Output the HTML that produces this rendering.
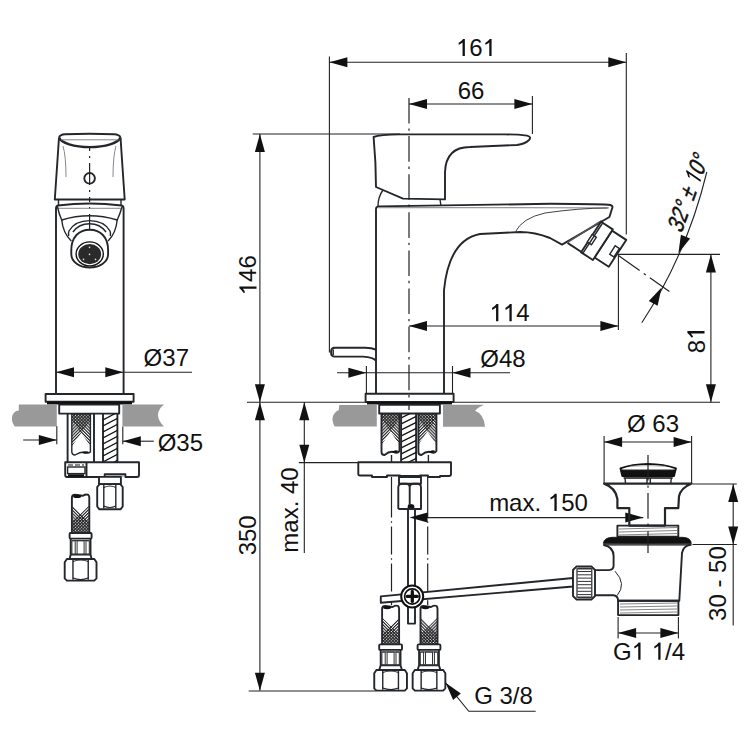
<!DOCTYPE html>
<html><head><meta charset="utf-8"><style>
html,body{margin:0;padding:0;background:#fff;}
svg{display:block;}
.one{fill-opacity:0;stroke-opacity:0;}
text{font-family:"Liberation Sans",sans-serif;fill:#111;font-kerning:none;}
.d{stroke:#222;stroke-width:1.1;fill:none;}
.cl{stroke:#222;stroke-width:1.2;fill:none;}
.o{stroke:#23262b;stroke-width:1.9;fill:none;stroke-linejoin:round;}
.o1{stroke:#23262b;stroke-width:1.4;fill:none;}
.t1{stroke:#888;stroke-width:1;fill:none;}
</style></head><body>
<svg width="750" height="750" viewBox="0 0 750 750">
<defs>
<pattern id="h1" width="2.2" height="2.2" patternUnits="userSpaceOnUse" patternTransform="rotate(45)"><rect width="1.15" height="2.2" fill="#222"/></pattern>
<pattern id="h2" width="2.2" height="2.2" patternUnits="userSpaceOnUse" patternTransform="rotate(-45)"><rect width="1.15" height="2.2" fill="#222"/></pattern>
</defs>
<line x1="329.4" y1="56.5" x2="329.4" y2="352.5" class="d"/>
<line x1="626.3" y1="53" x2="626.3" y2="234.5" class="d"/>
<line x1="329.4" y1="62.3" x2="626.3" y2="62.3" class="d"/>
<polygon points="329.4,62.3 347.4,57.3 347.4,67.3" fill="#111"/>
<polygon points="626.3,62.3 608.3,67.3 608.3,57.3" fill="#111"/>
<text x="476" y="56" text-anchor="middle" font-size="24"><tspan class="one">1</tspan>6<tspan class="one">1</tspan></text>
<line x1="532.4" y1="96" x2="532.4" y2="134" class="d"/>
<line x1="409" y1="104" x2="532.4" y2="104" class="d"/>
<polygon points="409.0,104.0 427.0,99.0 427.0,109.0" fill="#111"/>
<polygon points="532.4,104.0 514.4,109.0 514.4,99.0" fill="#111"/>
<text x="471" y="98.7" text-anchor="middle" font-size="24">66</text>
<line x1="252.7" y1="134" x2="400" y2="134" class="d"/>
<line x1="259.9" y1="134" x2="259.9" y2="690.7" class="d"/>
<polygon points="259.9,134.0 264.9,152.0 254.9,152.0" fill="#111"/>
<polygon points="259.9,402.2 254.9,384.2 264.9,384.2" fill="#111"/>
<text x="256.5" y="275.3" text-anchor="middle" font-size="24" transform="rotate(-90 256.5 275.3)"><tspan class="one">1</tspan>46</text>
<line x1="247" y1="402.2" x2="720" y2="402.2" class="d"/>
<polygon points="259.9,402.2 264.9,420.2 254.9,420.2" fill="#111"/>
<polygon points="259.9,690.7 254.9,672.7 264.9,672.7" fill="#111"/>
<line x1="248.7" y1="691" x2="376" y2="691" class="d"/>
<text x="256.5" y="535.3" text-anchor="middle" font-size="24" transform="rotate(-90 256.5 535.3)">350</text>
<line x1="304.3" y1="402.2" x2="304.3" y2="553" class="d"/>
<polygon points="304.3,402.2 309.3,420.2 299.3,420.2" fill="#111"/>
<polygon points="304.3,462.8 299.3,444.8 309.3,444.8" fill="#111"/>
<line x1="298.8" y1="462.6" x2="358.4" y2="462.6" class="d"/>
<text x="297.5" y="510" text-anchor="middle" font-size="24" transform="rotate(-90 297.5 510)">max. 40</text>
<line x1="337" y1="372.8" x2="510" y2="372.8" class="d"/>
<polygon points="366.4,372.8 348.4,377.8 348.4,367.8" fill="#111"/>
<polygon points="452.5,372.8 470.5,367.8 470.5,377.8" fill="#111"/>
<line x1="366.4" y1="366" x2="366.4" y2="393" class="d"/>
<line x1="452.5" y1="366" x2="452.5" y2="393" class="d"/>
<text x="503" y="366.5" text-anchor="middle" font-size="24">Ø48</text>
<line x1="409" y1="326" x2="618.4" y2="326" class="d"/>
<polygon points="409.0,326.0 427.0,321.0 427.0,331.0" fill="#111"/>
<polygon points="618.4,326.0 600.4,331.0 600.4,321.0" fill="#111"/>
<line x1="618.4" y1="254.4" x2="618.4" y2="330" class="d"/>
<text x="509.5" y="321.2" text-anchor="middle" font-size="24"><tspan class="one">1</tspan><tspan class="one">1</tspan>4</text>
<line x1="618" y1="254.4" x2="720" y2="254.4" class="d"/>
<line x1="710.9" y1="254.4" x2="710.9" y2="402.2" class="d"/>
<polygon points="710.9,254.4 715.9,272.4 705.9,272.4" fill="#111"/>
<polygon points="710.9,402.2 705.9,384.2 715.9,384.2" fill="#111"/>
<text x="704.5" y="340" text-anchor="middle" font-size="24" transform="rotate(-90 704.5 340)">8<tspan class="one">1</tspan></text>
<path d="M706.8,172 A483,483 0 0 1 641.8,322.8" class="d"/>
<polygon points="678.4,253.2 680.9,234.7 690.1,238.6" fill="#111"/>
<polygon points="661.6,287.4 657.6,305.7 648.8,301.0" fill="#111"/>
<line x1="618.4" y1="255.6" x2="669.4" y2="291.6" class="cl" style="stroke-dasharray:26,5,2.5,5"/>
<text transform="translate(695,196.7) rotate(-70) skewX(-15) scale(0.8,1)" text-anchor="middle" font-size="24" style="stroke:#111;stroke-width:0.45">32° ± <tspan class="one">1</tspan>0°</text>
<line x1="56" y1="372.2" x2="192" y2="372.2" class="d"/>
<polygon points="56.0,372.2 74.0,367.2 74.0,377.2" fill="#111"/>
<polygon points="123.3,372.2 105.3,377.2 105.3,367.2" fill="#111"/>
<text x="166.3" y="366.4" text-anchor="middle" font-size="24">Ø37</text>
<line x1="23.2" y1="440" x2="56.8" y2="440" class="d"/>
<line x1="122.8" y1="441.2" x2="153.8" y2="441.2" class="d"/>
<polygon points="56.8,440.0 38.8,445.0 38.8,435.0" fill="#111"/>
<polygon points="122.8,441.2 140.8,436.2 140.8,446.2" fill="#111"/>
<line x1="56.8" y1="426" x2="56.8" y2="444.2" class="d"/>
<line x1="122.8" y1="426.4" x2="122.8" y2="444.2" class="d"/>
<text x="180.4" y="451.2" text-anchor="middle" font-size="24">Ø35</text>
<line x1="604.1" y1="442" x2="691.6" y2="442" class="d"/>
<polygon points="604.1,442.0 622.1,437.0 622.1,447.0" fill="#111"/>
<polygon points="691.6,442.0 673.6,447.0 673.6,437.0" fill="#111"/>
<line x1="604.1" y1="436" x2="604.1" y2="483" class="d"/>
<line x1="691.6" y1="436" x2="691.6" y2="483" class="d"/>
<text x="653" y="431.7" text-anchor="middle" font-size="24">Ø 63</text>
<line x1="692.4" y1="484" x2="736.8" y2="484" class="d"/>
<line x1="692.4" y1="544.5" x2="736.8" y2="544.5" class="d"/>
<line x1="733.2" y1="484" x2="733.2" y2="625.6" class="d"/>
<polygon points="733.2,484.0 738.2,502.0 728.2,502.0" fill="#111"/>
<polygon points="733.2,544.5 728.2,526.5 738.2,526.5" fill="#111"/>
<text x="726" y="583.6" text-anchor="middle" font-size="24" transform="rotate(-90 726 583.6)">30 - 50</text>
<line x1="618.1" y1="633" x2="678.4" y2="633" class="d"/>
<polygon points="618.1,633.0 636.1,628.0 636.1,638.0" fill="#111"/>
<polygon points="678.4,633.0 660.4,638.0 660.4,628.0" fill="#111"/>
<line x1="618.1" y1="617" x2="618.1" y2="638.4" class="d"/>
<line x1="678.4" y1="617" x2="678.4" y2="638.4" class="d"/>
<text x="649" y="659.7" text-anchor="middle" font-size="24">G<tspan class="one">1</tspan> <tspan class="one">1</tspan>/4</text>
<line x1="410.4" y1="517.6" x2="643.3" y2="517.6" class="d"/>
<polygon points="643.3,517.6 625.3,522.6 625.3,512.6" fill="#111"/>
<text x="538.5" y="510.9" text-anchor="middle" font-size="24">max. <tspan class="one">1</tspan>50</text>
<polyline points="445.6,682.8 468.8,711.3 535.7,711.3" class="d"/>
<polygon points="445.6,682.8 460.8,693.6 453.1,699.9" fill="#111"/>
<text x="503.5" y="704.4" text-anchor="middle" font-size="24">G 3/8</text>
<path d="M59,137.5 L54.8,199.5 L124.7,199.5 L120.5,137.5" class="o"/>
<path d="M59,137.5 Q60,134.5 65,134.2 Q89.6,133.2 114,134.2 Q119.5,134.5 120.5,137.5" class="o"/>
<path d="M59,137.5 A31,11 0 0 0 120.5,137.5" class="o" style="stroke-width:2.4"/>
<path d="M61,139.8 L118.5,139.8" class="t1"/>
<path d="M63,146 Q66,156 66,177 M116,146 Q113,156 113,177" class="t1"/>
<circle cx="89.6" cy="178.3" r="5.3" class="o" style="fill:#fff"/>
<line x1="89.6" y1="146" x2="89.6" y2="230" class="cl" style="stroke-dasharray:5,5,2,5,22,5,2,5;"/>
<path d="M58.5,199.5 L58.5,205 M121,199.5 L121,205" class="o1"/>
<path d="M56,393.6 L56,208.5 Q56,206 58,205.5 Q89.5,201.5 121.5,205.5 Q123.6,206 123.6,208.5 L123.6,393.6" class="o"/>
<path d="M58,208.3 L121,208.3" class="t1"/>
<path d="M57.5,207 Q59,214 61.7,220 Q89.5,211.5 117.2,220 Q120,214 122,207" class="o1"/>
<path d="M61.7,220 Q63,233 71.3,241 M117.2,220 Q116,233 108.1,241" class="o1"/>
<path d="M68.7,236 Q68,233.4 69,231 Q75,220.6 89.5,220.6 Q104,220.6 110,231 Q111,233.4 110.3,236" class="o1"/>
<path d="M72.9,232 Q79,223.8 89.5,223.8 Q100,223.8 106,232" class="o1"/>
<path d="M71.3,250 C71.3,237 79,229.7 89.7,229.7 C100.4,229.7 108.1,237 108.1,250 L108.1,254 C108.1,262 100,267.5 89.7,267.5 C79.4,267.5 71.3,262 71.3,254 Z" class="o" style="fill:#fff" stroke-width="3"/>
<ellipse cx="89.7" cy="253.9" rx="13.6" ry="12" fill="none" stroke="#111" stroke-width="1.4"/>
<ellipse cx="89.7" cy="254.1" rx="11.45" ry="10.1" fill="#2a2a2a"/>
<circle cx="89.5" cy="247.4" r="0.8" fill="#ddd"/>
<circle cx="89.5" cy="254.4" r="0.8" fill="#ddd"/>
<circle cx="83.5" cy="259.4" r="0.8" fill="#ddd"/>
<circle cx="95.5" cy="259.4" r="0.8" fill="#ddd"/>
<rect x="45.6" y="394" width="88" height="7.8" class="o"/>
<path d="M47,403 L132,403" stroke="#111" stroke-width="3"/>
<path d="M18.8,404.6 L56.8,404.6 L56.8,426.6 L14.8,426.6 Q11.5,422 12,417.5 Q13,411 18.8,410.6 Z" fill="#999"/>
<path d="M122.4,404.4 L164,404.4 Q152,414 164,426.6 L122.4,426.6 Z" fill="#999"/>
<rect x="59.2" y="404.6" width="60" height="9" class="o"/>
<path d="M67.6,413.6 L67.6,462.2 M94,413.6 L94,462.2 M103,413.6 L103,462.2 M117.4,413.6 L117.4,462.2" class="o"/>
<polygon points="72,414 90.4,414 90.4,420 72,446" fill="url(#h1)"/>
<polygon points="72,414 90.4,414 90.4,446 72,420" fill="url(#h2)"/>
<path d="M71.8,414 L71.8,452 Q72,455 75,455 Q80,452 84,452 Q88,454 90.4,452 L90.4,414" class="o1"/>
<path d="M82,453 Q86,450 89,452 Q86,455 82,453 Z" fill="#111"/>
<clipPath id="cr1"><rect x="103" y="413.6" width="14.4" height="48.6"/></clipPath>
<g clip-path="url(#cr1)"><line x1="103" y1="420" x2="118" y2="412" stroke="#111" stroke-width="1.3"/><line x1="103" y1="426" x2="118" y2="418" stroke="#111" stroke-width="1.3"/><line x1="103" y1="432" x2="118" y2="424" stroke="#111" stroke-width="1.3"/><line x1="103" y1="438" x2="118" y2="430" stroke="#111" stroke-width="1.3"/><line x1="103" y1="444" x2="118" y2="436" stroke="#111" stroke-width="1.3"/><line x1="103" y1="450" x2="118" y2="442" stroke="#111" stroke-width="1.3"/><line x1="103" y1="456" x2="118" y2="448" stroke="#111" stroke-width="1.3"/><line x1="103" y1="462" x2="118" y2="454" stroke="#111" stroke-width="1.3"/><line x1="103" y1="468" x2="118" y2="460" stroke="#111" stroke-width="1.3"/></g>
<path d="M65.2,462.2 L139,462.2 L139,475 Q139,477 137,477 L125.4,477 L125.4,474.2 L104.7,474.2 L104.7,477 L67,477 Q65.2,477 65.2,475 Z" class="o"/>
<rect x="67.6" y="467" width="17.4" height="6.6" class="o1"/>
<path d="M86.5,462.2 L86.5,477" class="o"/>
<path d="M68,465 L84,465" stroke="#111" stroke-width="1" stroke-dasharray="5,2"/>
<path d="M68,475.5 L84,475.5" stroke="#111" stroke-width="2.5"/>
<path d="M106,476 L124,476" class="t1"/>
<rect x="99" y="476.9" width="21.9" height="7.2" class="o" style="fill:#fff"/>
<path d="M99.6,484.1 L120.3,484.1 L122.7,487 L122.7,506.5 L120.5,509.3 L99.4,509.3 L97.2,506.5 L97.2,487 Z" class="o" style="fill:#fff"/>
<path d="M103.8,485 L103.8,508.4 M115.8,485 L115.8,508.4" class="o1"/>
<path d="M103.8,487.5 Q109.8,484.5 115.8,487.5 M103.8,506 Q109.8,509 115.8,506" class="o1" style="stroke-width:1.1"/>
<polygon points="72.39999999999999,533 88.8,533 88.8,505.8 72.39999999999999,521.8" fill="url(#h1)"/>
<polygon points="72.39999999999999,533 88.8,533 88.8,521.8 72.39999999999999,505.8" fill="url(#h2)"/>
<path d="M71.89999999999999,533 L71.89999999999999,497.8 Q71.89999999999999,494.8 74.89999999999999,494.8 Q79.6,495.3 82.6,495.8 Q86.3,493.8 88.3,494.8 Q89.3,495.8 89.3,497.8 L89.3,533" class="o"/>
<ellipse cx="77.1" cy="496.40000000000003" rx="4" ry="1.6" fill="#111"/>
<rect x="69.6" y="533" width="22" height="5.600000000000023" rx="1" class="o" style="fill:#fff"/>
<path d="M70.69999999999999,538.6 L70.69999999999999,554.5 L69.6,559 M90.5,538.6 L90.5,554.5 L91.6,559 M70.69999999999999,554.5 L90.5,554.5" class="o"/>
<path d="M72.19999999999999,540.6 L89.0,540.6" class="o1" style="stroke-width:1"/>
<rect x="71.89999999999999" y="540.8000000000001" width="3.3000000000000007" height="13.699999999999978" class="o1" style="stroke-width:1;stroke:#333"/>
<rect x="77.1" y="540.8000000000001" width="7.0" height="13.699999999999978" class="o1" style="stroke-width:1;stroke:#333"/>
<rect x="86.0" y="540.8000000000001" width="3.3000000000000007" height="13.699999999999978" class="o1" style="stroke-width:1;stroke:#333"/>
<path d="M66.89999999999999,559 L94.3,559 L96.5,562.2 L96.5,578.4 L94.3,580.6 L66.89999999999999,580.6 L64.69999999999999,578.4 L64.69999999999999,562.2 Z" class="o" style="fill:#fff"/>
<path d="M72.96799999999999,559.8 L72.96799999999999,579.8000000000001 M88.232,559.8 L88.232,579.8000000000001" class="o1"/>
<path d="M72.96799999999999,561.5 Q80.6,558.5 88.232,561.5 M72.96799999999999,578.1 Q80.6,581.1 88.232,578.1" class="o1" style="stroke-width:1.1"/>
<path d="M373.6,137 Q376,163 376,187 L403,198.6 L445,199.4 L445,172 Q446,147 470,147 L517,145 Q525,144 529,140 Q532,136.8 527,135.6 Q518,134.4 505,134.4 L400,134.4 Q380,134.6 373.6,137 Z" class="o"/>
<path d="M383,190 Q378,197 378,206" class="o1"/>
<path d="M440,199.5 L441,206" class="o1"/>
<line x1="409" y1="98" x2="409" y2="410" class="cl" style="stroke-dasharray:25.6,4.8,2.4,5.3"/>
<path d="M376,393.6 L376,209 Q376,206.4 379,206.4 L550,203.8 Q605,204 610.5,205 Q613,206 612.4,207.5 L609.4,217 L562,244.6 L550,238 Q535,232 520,232 L480,234 Q449,240 444,290 L444,393.6" class="o"/>
<path d="M378,207.6 L609,207.8" class="t1" style="stroke-width:1.3;stroke:#999"/>
<path d="M515,232.5 Q522,218 545,213 Q580,208 607.6,208" class="t1" style="stroke:#444"/>
<path d="M601.6,220.6 L568,242.2" class="o1" style="stroke:#555"/>
<g transform="translate(617.5,253.3) rotate(33)"><path d="M-17,-16 L0,-16 L0,16 L-17,16 Z" class="o" style="fill:#fff"/><path d="M-31,-17.5 L-17,-17.5 L-17,19 L-31,19 Z" class="o" style="fill:#fff"/><path d="M-47.6,18.5 L-31,18.5" class="o"/><rect x="-6" y="-5" width="5" height="10" class="o1"/><rect x="-31.5" y="-2" width="5" height="9" class="o1" style="fill:#fff"/><path d="M-29,-17 L-29,19" class="o1"/></g>
<path d="M376.2,350 Q372,347.8 365,347.8 L335,347.8 Q331,347.8 331,352.2 Q331,356.6 335,356.6 L363,356.6 Q373.5,357 376.2,361" class="o"/>
<path d="M333.2,349.5 L333.2,355" stroke="#23262b" stroke-width="1.5"/>
<rect x="365.6" y="393.8" width="88" height="8.2" class="o"/>
<path d="M367,403 L452,403" stroke="#111" stroke-width="3"/>
<path d="M339.3,405 L376.8,405 L376.8,426.6 L334.7,426.6 Q331.5,421 333,416 Q335,411.5 338.7,410.3 Z" fill="#999"/>
<path d="M443,404.8 L483.8,404.8 Q478,407.5 475,410.8 Q484,414 485,426.8 L443,426.8 Z" fill="#999"/>
<rect x="379.2" y="404.7" width="60.7" height="8.8" class="o"/>
<polygon points="382.0,414 399.0,414 399.0,419 382.0,444" fill="url(#h1)"/>
<polygon points="382.0,414 399.0,414 399.0,444 382.0,419" fill="url(#h2)"/>
<path d="M381.5,413.5 L381.5,452 Q381.5,455 384.5,455 Q389.5,451 393.5,452 Q397.5,454 399.5,451 L399.5,413.5" class="o"/>
<path d="M391.5,452 Q395.5,449 398.5,451 Q395.5,454 391.5,452 Z" fill="#111"/>
<path d="M391.5,455 L391.5,462" class="o1"/>
<polygon points="418.9,414 435.9,414 435.9,419 418.9,444" fill="url(#h1)"/>
<polygon points="418.9,414 435.9,414 435.9,444 418.9,419" fill="url(#h2)"/>
<path d="M418.4,413.5 L418.4,452 Q418.4,455 421.4,455 Q426.4,451 430.4,452 Q434.4,454 436.4,451 L436.4,413.5" class="o"/>
<path d="M428.4,452 Q432.4,449 435.4,451 Q432.4,454 428.4,452 Z" fill="#111"/>
<path d="M428.4,455 L428.4,462" class="o1"/>
<path d="M401.1,413.5 L401.1,462 M416.1,413.5 L416.1,462" class="o"/>
<clipPath id="cr2"><rect x="402" y="413.6" width="14" height="48.6"/></clipPath>
<g clip-path="url(#cr2)"><line x1="401" y1="418" x2="417" y2="410" stroke="#111" stroke-width="1.3"/><line x1="401" y1="424" x2="417" y2="416" stroke="#111" stroke-width="1.3"/><line x1="401" y1="430" x2="417" y2="422" stroke="#111" stroke-width="1.3"/><line x1="401" y1="436" x2="417" y2="428" stroke="#111" stroke-width="1.3"/><line x1="401" y1="442" x2="417" y2="434" stroke="#111" stroke-width="1.3"/><line x1="401" y1="448" x2="417" y2="440" stroke="#111" stroke-width="1.3"/><line x1="401" y1="454" x2="417" y2="446" stroke="#111" stroke-width="1.3"/><line x1="401" y1="460" x2="417" y2="452" stroke="#111" stroke-width="1.3"/><line x1="401" y1="466" x2="417" y2="458" stroke="#111" stroke-width="1.3"/><line x1="401" y1="472" x2="417" y2="464" stroke="#111" stroke-width="1.3"/></g>
<path d="M358.3,462.3 L451,462.3 L451,474 Q451,476 449,476 L440,476 L440,477 L428,477 L428,475.5 L420,475.5 L420,477 L400,477 L400,475.5 L387,475.5 L387,477 L372,477 L372,475.5 L360,475.5 Q358.3,475.5 358.3,474 Z" class="o"/>
<rect x="399" y="476" width="22" height="7.7" class="o"/>
<path d="M398.3,509 L398.3,487.5 Q398.3,483.7 402,483.7 L406,483.7 Q409.7,483.7 409.7,487.5 L409.7,504 M409.7,487.5 Q409.7,483.7 413.5,483.7 L417.5,483.7 Q421,483.7 421,487.5 L421,509 L398.3,509" class="o"/>
<path d="M407.7,509 L407.7,506 Q407.7,504 410,504 Q414.3,504 414.3,506 L414.3,509 Z" fill="#111"/>
<rect x="408" y="509" width="7" height="114.6" class="o" style="fill:#fff"/>
<line x1="391.5" y1="477" x2="391.5" y2="605" class="cl" style="stroke-dasharray:40.6,3.7,1.5,3.7,28,3.7,1.5,3.7,28,3.7,1.5,3.7,28,3.7,1.5,3.7,40"/>
<line x1="427.7" y1="477" x2="427.7" y2="605" class="cl" style="stroke-dasharray:40.6,3.7,1.5,3.7,28,3.7,1.5,3.7,28,3.7,1.5,3.7,28,3.7,1.5,3.7,40"/>
<path d="M380.8,596.4 L380.8,602.8 L573,586.5 L573,578 Z" class="o" style="fill:#fff"/>
<circle cx="412.2" cy="596.5" r="11" style="fill:#fff;stroke:#111;stroke-width:2"/>
<circle cx="412.2" cy="596.5" r="7.6" style="fill:#fff;stroke:#111;stroke-width:1.7"/>
<path d="M412.3,591.4 L412.3,601.4 M407.3,596.4 L417.3,596.4" stroke="#111" stroke-width="3.3" stroke-linecap="round"/>
<polygon points="382.6,644.4 398.6,644.4 398.6,618 382.6,634" fill="url(#h1)"/>
<polygon points="382.6,644.4 398.6,644.4 398.6,634 382.6,618" fill="url(#h2)"/>
<path d="M382.1,644.4 L382.1,609 Q382.1,606 385.1,606 Q389.6,606.5 392.6,607 Q396.1,605 398.1,606 Q399.1,607 399.1,609 L399.1,644.4" class="o"/>
<ellipse cx="387.1" cy="607.6" rx="4" ry="1.6" fill="#111"/>
<rect x="379.20000000000005" y="644.4" width="22.8" height="5.5" rx="1" class="o" style="fill:#fff"/>
<path d="M380.70000000000005,649.9 L380.70000000000005,665.3 L379.20000000000005,670 M400.5,649.9 L400.5,665.3 L402.0,670 M380.70000000000005,665.3 L400.5,665.3" class="o"/>
<path d="M382.20000000000005,651.9 L399.0,651.9" class="o1" style="stroke-width:1"/>
<rect x="381.90000000000003" y="652.1" width="3.3000000000000007" height="13.199999999999978" class="o1" style="stroke-width:1;stroke:#333"/>
<rect x="387.1" y="652.1" width="7.0" height="13.199999999999978" class="o1" style="stroke-width:1;stroke:#333"/>
<rect x="396.0" y="652.1" width="3.3000000000000007" height="13.199999999999978" class="o1" style="stroke-width:1;stroke:#333"/>
<path d="M376.45,670 L404.75000000000006,670 L406.95000000000005,673.2 L406.95000000000005,688.4 L404.75000000000006,690.6 L376.45,690.6 L374.25,688.4 L374.25,673.2 Z" class="o" style="fill:#fff"/>
<path d="M382.752,670.8 L382.752,689.8000000000001 M398.44800000000004,670.8 L398.44800000000004,689.8000000000001" class="o1"/>
<path d="M382.752,672.5 Q390.6,669.5 398.44800000000004,672.5 M382.752,688.1 Q390.6,691.1 398.44800000000004,688.1" class="o1" style="stroke-width:1.1"/>
<polygon points="421.0,644.4 437.0,644.4 437.0,618 421.0,634" fill="url(#h1)"/>
<polygon points="421.0,644.4 437.0,644.4 437.0,634 421.0,618" fill="url(#h2)"/>
<path d="M420.5,644.4 L420.5,609 Q420.5,606 423.5,606 Q428,606.5 431,607 Q434.5,605 436.5,606 Q437.5,607 437.5,609 L437.5,644.4" class="o"/>
<ellipse cx="425.5" cy="607.6" rx="4" ry="1.6" fill="#111"/>
<rect x="417.6" y="644.4" width="22.8" height="5.5" rx="1" class="o" style="fill:#fff"/>
<path d="M419.1,649.9 L419.1,665.3 L417.6,670 M438.9,649.9 L438.9,665.3 L440.4,670 M419.1,665.3 L438.9,665.3" class="o"/>
<path d="M420.6,651.9 L437.4,651.9" class="o1" style="stroke-width:1"/>
<rect x="420.3" y="652.1" width="3.3000000000000007" height="13.199999999999978" class="o1" style="stroke-width:1;stroke:#333"/>
<rect x="425.5" y="652.1" width="7.0" height="13.199999999999978" class="o1" style="stroke-width:1;stroke:#333"/>
<rect x="434.4" y="652.1" width="3.3000000000000007" height="13.199999999999978" class="o1" style="stroke-width:1;stroke:#333"/>
<path d="M414.84999999999997,670 L443.15000000000003,670 L445.35,673.2 L445.35,688.4 L443.15000000000003,690.6 L414.84999999999997,690.6 L412.65,688.4 L412.65,673.2 Z" class="o" style="fill:#fff"/>
<path d="M421.152,670.8 L421.152,689.8000000000001 M436.848,670.8 L436.848,689.8000000000001" class="o1"/>
<path d="M421.152,672.5 Q429,669.5 436.848,672.5 M421.152,688.1 Q429,691.1 436.848,688.1" class="o1" style="stroke-width:1.1"/>
<polygon points="409.5,517.6 427.5,512.6 427.5,522.6" fill="#111"/>
<path d="M604.1,483.6 L691.6,483.6 Q681,488 679,496.2 L678.3,508.1 L665,508.1 L665,525.6 L629.3,525.6 L629.3,508.1 L617.4,508.1 L617.4,499 Q616,488 604.1,483.6 Z" class="o" style="stroke-width:2.2"/>
<path d="M622.3,476 L620.4,468.3 Q632,464.3 648,463.9 Q664,464.3 676,468.3 L674,476 Z" style="fill:#fff;stroke:#111;stroke-width:1.8;stroke-linejoin:round"/>
<path d="M621,469.6 L675.4,469.6 L674,476 L622.3,476 Z" fill="#111"/>
<path d="M623,469.6 L673.5,469.6" stroke="#999" stroke-width="0.9"/>
<path d="M630,466.4 Q648,464.8 666,466.4" stroke="#aaa" stroke-width="0.9" fill="none"/>
<path d="M623.6,477.9 L672.7,477.9" stroke="#111" stroke-width="1.5"/>
<path d="M625,478 L625.5,483 M647,478 L647,483 M650.3,478 L650.3,483 M671.3,478 L670.8,483" class="o1"/>
<rect x="617.4" y="525.6" width="60.9" height="11.2" class="o"/>
<path d="M619,529 L677,527.5 M619,532 L677,530.5 M619,535 L677,533.5" stroke="#777" stroke-width="0.9"/>
<path d="M603.3,543.4 Q604,537.8 612,537.3 L683,537.3 Q691,537.8 691.3,543.6 Z" fill="#111" stroke="#111" stroke-width="0.8"/>
<path d="M603,544.8 L691.6,544.8" stroke="#111" stroke-width="1.3"/>
<path d="M603.7,545 Q613.6,547 613.6,556 L613.6,565.6 Q613.6,570.1 609,570.1 L594.7,570.1 M594.7,595.3 L613.6,595.3 Q618.1,596 618.1,600.7 L679.3,600.7 L682,553 Q683,546 691,544.5" class="o"/>
<rect x="618.1" y="600.7" width="60.3" height="14.4" class="o"/>
<path d="M620,604 L677,603 M620,607 L677,606 M620,610 L677,609 M620,613 L677,612" stroke="#777" stroke-width="0.9"/>
<path d="M615,571.2 Q627,584 617,595.6" class="o1" style="stroke-width:1"/>
<path d="M576.6,566.4 L591.4,566.4 L595,570 L595,596 L591.4,599.6 L576.6,599.6 L573,596 L573,570 Z" class="o" style="fill:#fff"/>
<path d="M577.5,571.5 L591.3,571.5 M577.5,574.8 L591.3,574.8 M577.5,578.1 L591.3,578.1 M577.5,581.4 L591.3,581.4 M577.5,584.7 L591.3,584.7 M577.5,588.0 L591.3,588.0 M577.5,591.3 L591.3,591.3 M577.5,594.6 L591.3,594.6" stroke="#333" stroke-width="1"/>
<path d="M577.5,567.5 L591.3,567.5 L591.3,569.5 L577.5,569.5 Z M577.5,596.5 L591.3,596.5 L591.3,598.5 L577.5,598.5 Z" fill="#333"/>
<path d="M577,568 L577,598 M591.8,568 L591.8,598" class="o1" style="stroke-width:1.2"/>
<line x1="648" y1="455" x2="648" y2="553" class="cl" style="stroke-dasharray:25.6,4.8,2.4,5.3"/>
<path d="M8.9,0 L6.6,0 L6.6,-13.6 Q4.9,-12.1 2.9,-11.3 L2.5,-13.1 Q5.3,-14.6 7.1,-17.1 L8.9,-17.1 Z" transform="translate(455.96,56.00)" fill="#111"/>
<path d="M8.9,0 L6.6,0 L6.6,-13.6 Q4.9,-12.1 2.9,-11.3 L2.5,-13.1 Q5.3,-14.6 7.1,-17.1 L8.9,-17.1 Z" transform="translate(482.68,56.00)" fill="#111"/>
<g transform="rotate(-90 256.5 275.3)"><path d="M8.9,0 L6.6,0 L6.6,-13.6 Q4.9,-12.1 2.9,-11.3 L2.5,-13.1 Q5.3,-14.6 7.1,-17.1 L8.9,-17.1 Z" transform="translate(236.47,275.30)" fill="#111"/></g>
<path d="M8.9,0 L6.6,0 L6.6,-13.6 Q4.9,-12.1 2.9,-11.3 L2.5,-13.1 Q5.3,-14.6 7.1,-17.1 L8.9,-17.1 Z" transform="translate(489.46,321.20)" fill="#111"/>
<path d="M8.9,0 L6.6,0 L6.6,-13.6 Q4.9,-12.1 2.9,-11.3 L2.5,-13.1 Q5.3,-14.6 7.1,-17.1 L8.9,-17.1 Z" transform="translate(502.82,321.20)" fill="#111"/>
<g transform="rotate(-90 704.5 340)"><path d="M8.9,0 L6.6,0 L6.6,-13.6 Q4.9,-12.1 2.9,-11.3 L2.5,-13.1 Q5.3,-14.6 7.1,-17.1 L8.9,-17.1 Z" transform="translate(704.50,340.00)" fill="#111"/></g>
<g transform="translate(695,196.7) rotate(-70) skewX(-15) scale(0.8,1)"><path d="M8.9,0 L6.6,0 L6.6,-13.6 Q4.9,-12.1 2.9,-11.3 L2.5,-13.1 Q5.3,-14.6 7.1,-17.1 L8.9,-17.1 Z" transform="translate(13.24,0.00)" fill="#111"/></g>
<path d="M8.9,0 L6.6,0 L6.6,-13.6 Q4.9,-12.1 2.9,-11.3 L2.5,-13.1 Q5.3,-14.6 7.1,-17.1 L8.9,-17.1 Z" transform="translate(631.63,659.70)" fill="#111"/>
<path d="M8.9,0 L6.6,0 L6.6,-13.6 Q4.9,-12.1 2.9,-11.3 L2.5,-13.1 Q5.3,-14.6 7.1,-17.1 L8.9,-17.1 Z" transform="translate(651.66,659.70)" fill="#111"/>
<path d="M8.9,0 L6.6,0 L6.6,-13.6 Q4.9,-12.1 2.9,-11.3 L2.5,-13.1 Q5.3,-14.6 7.1,-17.1 L8.9,-17.1 Z" transform="translate(547.81,510.90)" fill="#111"/>
</svg></body></html>
